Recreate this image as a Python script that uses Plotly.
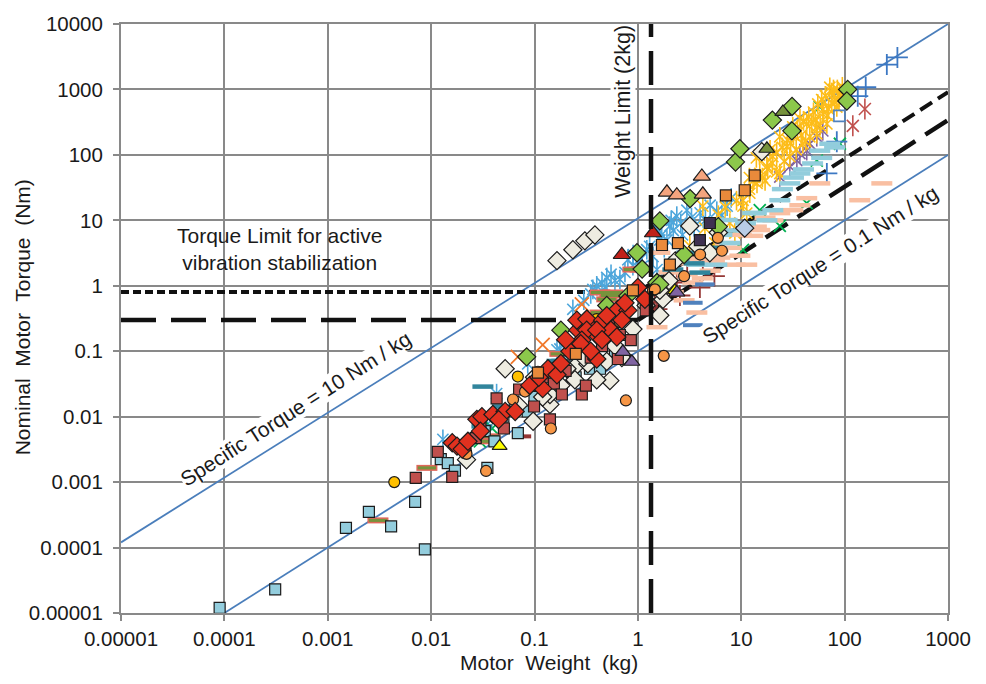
import math
import plotly.graph_objects as go

# ---------------- axes ----------------
x_ticks = [1e-5, 1e-4, 1e-3, 1e-2, 1e-1, 1, 10, 100, 1000]
x_labels = ["0.00001", "0.0001", "0.001", "0.01", "0.1", "1", "10", "100", "1000"]
y_ticks = [1e-5, 1e-4, 1e-3, 1e-2, 1e-1, 1, 10, 100, 1000, 10000]
y_labels = ["0.00001", "0.0001", "0.001", "0.01", "0.1", "1", "10", "100", "1000", "10000"]

# ---------------- reference lines ----------------
st10_w = [1e-5, 1000]          # specific torque 10 Nm/kg
st10_t = [1.2e-4, 1e4]
st01_w = [1e-4, 1000]          # specific torque 0.1 Nm/kg
st01_t = [1e-5, 100]
fine_w = [1e-5, 1, 1000]       # torque limit (fine dashes)
fine_t = [0.8, 0.8, 910]
coarse_w = [1e-5, 1, 1000]     # torque limit (long dashes)
coarse_t = [0.3, 0.3, 340]
weight_limit = 1.34
wl_t = [1e-5, 1e4]

# ---------------- motor data (weight kg, torque Nm) ----------------
sq_lb_w = [9e-5, 3.1e-4, 1.5e-3, 2.5e-3, 4.1e-3, 7.0e-3, 8.7e-3, 0.0124, 0.0145, 0.017, 0.0217, 0.033, 0.035, 0.041, 0.069, 0.086, 0.184, 0.344, 0.43,
           0.05, 0.1, 0.15, 0.25, 0.3, 0.6, 0.21, 0.13]
sq_lb_t = [1.2e-5, 2.3e-5, 2.0e-4, 3.5e-4, 2.1e-4, 5.0e-4, 9.4e-5, 2.25e-3, 1.95e-3, 1.5e-3, 2.5e-3, 6.0e-3, 1.65e-3, 4.2e-3, 5.6e-3, 0.012, 0.029, 0.054, 0.054,
           0.01, 0.02, 0.045, 0.04, 0.1, 0.1, 0.07, 0.03]

sq_dr_w = [7.1e-3, 0.0116, 0.016, 0.027, 0.0506, 0.043, 0.071, 0.099, 0.141, 0.154, 0.184, 0.287, 0.314, 0.64, 0.67, 0.855, 1.19,
           0.2, 0.35, 0.45, 0.55, 0.12, 0.03]
sq_dr_t = [1.16e-3, 2.9e-3, 1.2e-3, 4.7e-3, 6.6e-3, 0.019, 0.026, 0.0143, 9.1e-3, 0.032, 0.0218, 0.0218, 0.0298, 0.076, 0.177, 0.148, 0.42,
           0.05, 0.08, 0.12, 0.25, 0.04, 0.008]

sq_o_w = [0.108, 0.251, 0.895, 1.71, 2.44, 2.04, 7.1, 10.8, 13.5]
sq_o_t = [0.047, 0.091, 0.85, 4.2, 4.5, 2.1, 24, 28.8, 48.6]

sq_p_w = [4.97, 3.98]
sq_p_t = [9.1, 5.0]

sq_ob_w = [89]
sq_ob_t = [394]

di_r_w = [0.016, 0.0178, 0.02, 0.0227, 0.0277, 0.031, 0.0396, 0.052, 0.065, 0.12, 0.135, 0.165, 0.40, 0.263, 0.344, 0.40, 0.536, 0.626, 0.257, 0.321, 0.457, 0.32, 0.40, 0.287, 0.64, 0.80, 1.0, 1.17,
          0.18, 0.22, 0.28, 0.35, 0.45, 0.5, 0.7, 0.75, 0.2, 0.03, 0.045, 0.09, 0.11]
di_r_t = [4.0e-3, 3.55e-3, 3.2e-3, 4.2e-3, 9.1e-3, 0.01, 0.0108, 0.012, 0.012, 0.0268, 0.054, 0.0437, 0.076, 0.21, 0.233, 0.177, 0.218, 0.165, 0.298, 0.31, 0.298, 0.21, 0.21, 0.148, 0.437, 0.42, 0.94, 0.62,
          0.065, 0.1, 0.13, 0.1, 0.15, 0.35, 0.3, 0.55, 0.15, 0.006, 0.009, 0.03, 0.04]

di_w_w = [0.165, 0.235, 0.307, 0.384, 0.052, 0.257, 0.328, 0.536, 0.40, 0.206, 0.141, 0.097, 0.141, 0.246, 1.75, 1.63, 0.895, 3.18, 15.8, 0.022, 1.63, 4.97,
          0.1, 0.12, 0.18, 0.3, 0.5, 0.6, 0.7, 0.07, 1.2, 2.0, 2.3, 3.8, 6.0]
di_w_t = [2.42, 3.55, 4.86, 5.98, 0.054, 0.062, 0.064, 0.0355, 0.0367, 0.054, 0.0154, 8.5e-3, 0.0218, 0.0367, 0.62, 0.355, 0.218, 8.2, 112, 2.2e-3, 0.85, 3.2,
          0.04, 0.02, 0.03, 0.08, 0.07, 0.12, 0.08, 0.015, 0.5, 1.2, 2.4, 4.0, 6.5]

di_g_w = [0.18, 0.084, 1.53, 0.98, 1.63, 1.63, 3.2, 8.8, 9.7, 20, 31, 30.9, 107, 105, 0.5, 0.8, 1.1, 2.8, 6.0]
di_g_t = [0.21, 0.082, 1.12, 3.2, 1.05, 9.8, 21.5, 78, 124, 340, 550, 233, 1000, 665, 0.5, 0.7, 1.8, 3.0, 8.0]

di_sb_w = [10.8]
di_sb_t = [7.6]

ci_o_w = [0.022, 0.034, 0.062, 0.081, 0.1, 0.108, 0.144, 0.766, 0.67, 1.4, 1.46, 1.78, 5.94, 6.5, 2.8, 4.0]
ci_o_t = [2.7e-3, 1.48e-3, 0.0183, 0.0242, 0.0309, 0.0486, 6.6e-3, 0.0177, 0.278, 0.85, 0.88, 0.085, 5.4, 3.43, 1.4, 3.0]

ci_y_w = [4.4e-3, 0.069, 0.40]
ci_y_t = [1.0e-3, 0.041, 0.31]

tri_s_w = [1.91, 2.38, 4.25, 4.16]
tri_s_t = [26.8, 24.2, 25, 46.9]
tri_dr_w = [0.70, 1.4]
tri_dr_t = [2.98, 6.4]
tri_p_w = [0.716, 0.875, 2.38]
tri_p_t = [0.098, 0.069, 0.79]
tri_y_w = [0.046, 2.28]
tri_y_t = [3.55e-3, 0.85]
tri_ol_w = [25.3, 17.7]
tri_ol_t = [453, 124]

ast_lb_w = [0.013, 0.043, 0.0347, 0.086, 0.165, 0.235, 0.176, 0.367, 0.40, 0.48, 0.50, 0.67, 0.895, 1.05, 1.22, 1.53, 1.63, 1.91, 2.04, 2.38, 2.98, 5.8, 7.3,
            0.3, 0.35, 0.45, 0.55, 0.6, 0.75, 0.8, 0.9, 1.1, 1.3, 1.4, 1.7, 1.8, 2.2, 2.6, 3.3, 4.0, 5.0, 8.0,
            1.6, 2.1, 2.7, 3.5, 4.5, 6.5]
ast_lb_t = [4.5e-3, 0.0225, 7.6e-3, 0.064, 0.105, 0.437, 0.108, 0.88, 1.0, 0.94, 1.34, 1.25, 2.03, 2.5, 3.55, 1.77, 5.0, 5.0, 8.2, 11.6, 14.3, 13.8, 16.5,
            0.6, 0.75, 1.1, 1.5, 1.2, 1.6, 2.5, 3.0, 2.0, 4.0, 2.8, 6.0, 3.8, 7.0, 9.0, 11, 13, 17, 22,
            7.0, 10, 6.0, 8.0, 10, 12]

ast_g_w = [3.18, 4.25, 10.4, 71.9, 90, 84, 61.5, 53.8, 46, 31.5, 23.6, 27.6, 20.2, 17.7, 15.1, 14.2, 12.1, 10.4, 11.3, 23.6, 29.5, 39.4, 53.8, 67.3, 43, 7.76, 8.67, 4.45, 5.56, 15, 37, 100,
           6, 7, 9, 12, 13, 16, 18, 20, 22, 25, 28, 32, 35, 40, 45, 50, 55, 60, 65, 75, 85, 95, 70, 80,
           12, 14, 17, 19, 22, 26, 30, 34, 38, 42, 48, 52, 58, 62, 68, 75, 88, 78]
ast_g_t = [4.08, 16.5, 16.5, 1080, 850, 540, 423, 268, 189, 268, 189, 134, 94, 66.5, 52, 36.7, 26, 20.3, 12.9, 52, 94, 148, 210, 298, 298, 9.1, 6.4, 7.6, 4.5, 100, 360, 900,
           12, 16, 20, 30, 40, 45, 60, 75, 110, 130, 170, 200, 250, 330, 380, 450, 600, 700, 800, 900, 1000, 1100, 500, 650,
           45, 90, 40, 120, 55, 80, 150, 120, 200, 160, 300, 350, 280, 500, 400, 620, 700, 1000]

ast_p_w = [36.9, 43, 46, 53.8, 61.5, 34.5, 29.5, 23.6]
ast_p_t = [105, 116, 148, 189, 233, 82, 66.5, 46]

ast_r_w = [157, 120]
ast_r_t = [502, 278]

x_o_w = [0.12, 0.069, 0.287]
x_o_t = [0.125, 0.082, 0.52]

x_g_w = [0.039, 0.0296, 57.5, 90, 53.8, 43, 23.6, 15.1, 10.4]
x_g_t = [6.6e-3, 4.2e-3, 540, 148, 82, 18.3, 8.2, 14.3, 3.55]

pl_b_w = [256, 324, 160, 134, 67.3, 84]
pl_b_t = [2400, 3090, 1080, 790, 52, 159]

pl_br_w = [2.18, 4.25, 3.98, 1.46, 2.38, 2.55, 1.53, 3.0, 5.5]
pl_br_t = [1.12, 2.25, 0.94, 0.56, 1.2, 0.71, 0.44, 1.6, 1.4]

da_pe_w = [1.63, 1.91, 3.4, 9.7, 12.9, 11.3, 3.72, 1.53, 57.5, 140, 229, 43, 36.9, 31.5, 23.6, 20.2, 15.1, 6.2, 8.7,
           2.0, 2.5, 3.0, 4.0, 5.0, 6.0, 7.0, 8.0, 10, 14, 17, 2.2, 2.8, 4.2, 5.5]
da_pe_t = [3.2, 1.25, 1.12, 2.88, 5.8, 2.1, 0.39, 0.233, 36.7, 20.3, 36.7, 21.8, 17, 14.3, 12.9, 10, 7.1, 2.7, 2.1,
           1.6, 2.2, 1.5, 2.6, 1.7, 3.5, 4.5, 3.8, 6.0, 8.0, 11, 0.8, 0.6, 1.3, 2.4]

da_lb_w = [3.72, 5.3, 7.76, 5.8, 7.3, 71.9, 57.5, 49, 36.9, 29.5, 23.6, 20.2, 17.7, 12.9,
           4.5, 6.5, 9.0, 11, 14, 25, 32, 40, 60, 80]
da_lb_t = [2.1, 8.2, 4.5, 2.1, 10.1, 148, 116, 74, 52, 36.7, 20.3, 14.3, 10, 12.9,
           3.0, 6.0, 7.0, 9.0, 13, 30, 45, 60, 90, 130]

da_t_w = [0.0317, 0.049, 0.031, 0.165, 0.184, 2.98, 2.18, 3.98, 2.5, 3.5, 5.0]
da_t_t = [0.0288, 0.0143, 7.1e-3, 0.071, 0.071, 3.2, 1.77, 1.59, 2.6, 2.2, 3.8]

da_b_w = [4.45, 3.4, 3.4]
da_b_t = [1.05, 0.25, 0.55]

da_ol_w = [0.43, 0.536, 0.895, 0.176, 0.037, 0.037, 0.573, 0.50, 0.43, 1.05, 3.06e-3, 9.1e-3]
da_ol_t = [0.79, 0.71, 1.77, 0.091, 5.0e-3, 4.2e-3, 0.79, 0.62, 0.39, 1.77, 2.6e-4, 1.65e-3]

da_br_w = [0.077]
da_br_t = [5.0e-3]

# ---------------- figure ----------------
fig = go.Figure()
EDGE = "#1c1c1c"
FONT = "Liberation Sans, Arial, sans-serif"


def line(w, t, color, width, dash="solid"):
    fig.add_trace(go.Scatter(x=w, y=t, mode="lines", hoverinfo="skip", showlegend=False,
                             line=dict(color=color, width=width, dash=dash)))


def filled(w, t, symbol, color, size):
    fig.add_trace(go.Scatter(x=w, y=t, mode="markers", hoverinfo="skip", showlegend=False,
                             marker=dict(symbol=symbol, color=color, size=size,
                                         line=dict(color=EDGE, width=1.2))))


def stroked(w, t, symbol, color, size, width=1.8):
    fig.add_trace(go.Scatter(x=w, y=t, mode="markers", hoverinfo="skip", showlegend=False,
                             marker=dict(symbol=symbol, color=color, size=size,
                                         line=dict(color=color, width=width))))


def star(w, t, color, size=14):
    # six-armed star: an x with a vertical bar through it
    stroked(w, t, "x-thin-open", color, size * 0.8, 1.6)
    stroked(w, t, "line-ns-open", color, size, 1.6)


# reference lines (behind the data)
line(st10_w, st10_t, "#4A7EBB", 1.8)
line(st01_w, st01_t, "#4A7EBB", 1.8)
line(fine_w[:2], fine_t[:2], "#111111", 4, "8px,4px")
line(fine_w[1:], fine_t[1:], "#111111", 4, "14px,7px")
line(coarse_w[:2], coarse_t[:2], "#111111", 4.5, "35px,15px")
line(coarse_w[1:], coarse_t[1:], "#111111", 4.5, "26px,12px")

# stroke-only markers
star(ast_lb_w, ast_lb_t, "#4DA6DB")
stroked(pl_br_w, pl_br_t, "cross-thin-open", "#953735", 15)
stroked(x_g_w, x_g_t, "x-thin-open", "#00B050", 12)
stroked(x_o_w, x_o_t, "x-thin-open", "#F0782A", 14)
star(ast_p_w, ast_p_t, "#8064A2")
star(ast_g_w, ast_g_t, "#FDBD1A")
star(ast_r_w, ast_r_t, "#C0504D", 15)
stroked(pl_b_w, pl_b_t, "cross-thin-open", "#3C78C3", 15)

# dash markers
stroked(da_pe_w, da_pe_t, "line-ew-open", "#F9BFA2", 15, 4.5)
stroked(da_lb_w, da_lb_t, "line-ew-open", "#92CDDC", 15, 4.5)
stroked(da_t_w, da_t_t, "line-ew-open", "#31859C", 15, 4.5)
stroked(da_b_w, da_b_t, "line-ew-open", "#4F81BD", 14, 4)
stroked(da_br_w, da_br_t, "line-ew-open", "#943634", 12, 4)
stroked(da_ol_w, da_ol_t, "line-ew-open", "#E0675A", 15, 6)
stroked(da_ol_w, da_ol_t, "line-ew-open", "#77933C", 13, 3)

# filled markers
filled(sq_lb_w, sq_lb_t, "square", "#93CDDD", 11)
filled(di_w_w, di_w_t, "diamond", "#EEECE1", 14)
filled(sq_dr_w, sq_dr_t, "square", "#C0504D", 11)
filled(di_g_w, di_g_t, "diamond", "#8CC84B", 14)
filled(di_sb_w, di_sb_t, "diamond", "#B9CDE5", 14)
filled(ci_o_w, ci_o_t, "circle", "#F79646", 11)
filled(ci_y_w, ci_y_t, "circle", "#FFC000", 11)
filled(tri_y_w, tri_y_t, "triangle-up", "#FFFF00", 13)
filled(tri_p_w, tri_p_t, "triangle-up", "#8064A2", 14)
filled(tri_ol_w, tri_ol_t, "triangle-up", "#76923C", 14)
filled(tri_s_w, tri_s_t, "triangle-up", "#F4A47E", 15)
filled(tri_dr_w, tri_dr_t, "triangle-up", "#C0211A", 15)
filled(di_r_w, di_r_t, "diamond", "#E1311F", 14)
filled(sq_o_w, sq_o_t, "square", "#E98A3B", 11)
filled(sq_p_w, sq_p_t, "square", "#3F3151", 11)
stroked(sq_ob_w, sq_ob_t, "square-open", "#4F81BD", 11, 1.6)

# weight limit on top
line([weight_limit, weight_limit], wl_t, "#111111", 4.5, "34px,14px")

TXT = dict(family=FONT, size=21, color="#1a1a1a")
ang = -math.degrees(math.atan((66.0 / 103.4)))

fig.add_annotation(x=math.log10(4.9e-4), y=math.log10(0.0135), xref="x", yref="y",
                   text="Specific Torque = 10 Nm / kg", showarrow=False, textangle=ang,
                   font=TXT, bgcolor="white", borderpad=0, xanchor="center", yanchor="middle")
fig.add_annotation(x=math.log10(58), y=math.log10(2.1), xref="x", yref="y",
                   text="Specific Torque = 0.1 Nm / kg", showarrow=False, textangle=ang,
                   font=TXT, bgcolor="white", borderpad=0, xanchor="center", yanchor="middle")
fig.add_annotation(x=math.log10(0.716), y=math.log10(470), xref="x", yref="y",
                   text="Weight Limit (2kg)", showarrow=False, textangle=-90,
                   font=dict(family=FONT, size=21.5, color="#1a1a1a"), bgcolor="white", borderpad=0,
                   xanchor="center", yanchor="middle")
fig.add_annotation(x=math.log10(3.4e-4), y=math.log10(3.66), xref="x", yref="y",
                   text="Torque Limit for active<br>vibration stabilization", showarrow=False,
                   font=TXT, align="center", xanchor="center", yanchor="middle")

# axis titles
fig.add_annotation(x=0.5175, y=-0.0836, xref="paper", yref="paper",
                   text="Motor\u00a0 Weight\u00a0 (kg)", showarrow=False,
                   font=dict(family=FONT, size=21, color="#1a1a1a"),
                   xanchor="center", yanchor="middle")
fig.add_annotation(x=-0.1197, y=0.502, xref="paper", yref="paper",
                   text="Nominal\u00a0 Motor\u00a0 Torque\u00a0 (Nm)", showarrow=False, font=TXT,
                   textangle=-90, xanchor="center", yanchor="middle")

GRID = "#898989"
axis_common = dict(type="log", showgrid=True, gridcolor=GRID, gridwidth=2,
                   showline=True, linecolor=GRID, linewidth=2, mirror=True,
                   ticks="outside", ticklen=6, tickwidth=2, tickcolor=GRID,
                   tickfont=dict(family=FONT, size=20.5, color="#1a1a1a"),
                   zeroline=False)

fig.update_xaxes(range=[-5, 3], tickvals=x_ticks, ticktext=x_labels, ticklabelstandoff=0, **axis_common)
fig.update_yaxes(range=[-5, 4], tickvals=y_ticks, ticktext=y_labels, ticklabelstandoff=6, **axis_common)

fig.update_layout(width=986, height=684, margin=dict(l=121, r=38, t=19, b=71, pad=0),
                  paper_bgcolor="white", plot_bgcolor="white", showlegend=False)

fig.write_html("out.html")
